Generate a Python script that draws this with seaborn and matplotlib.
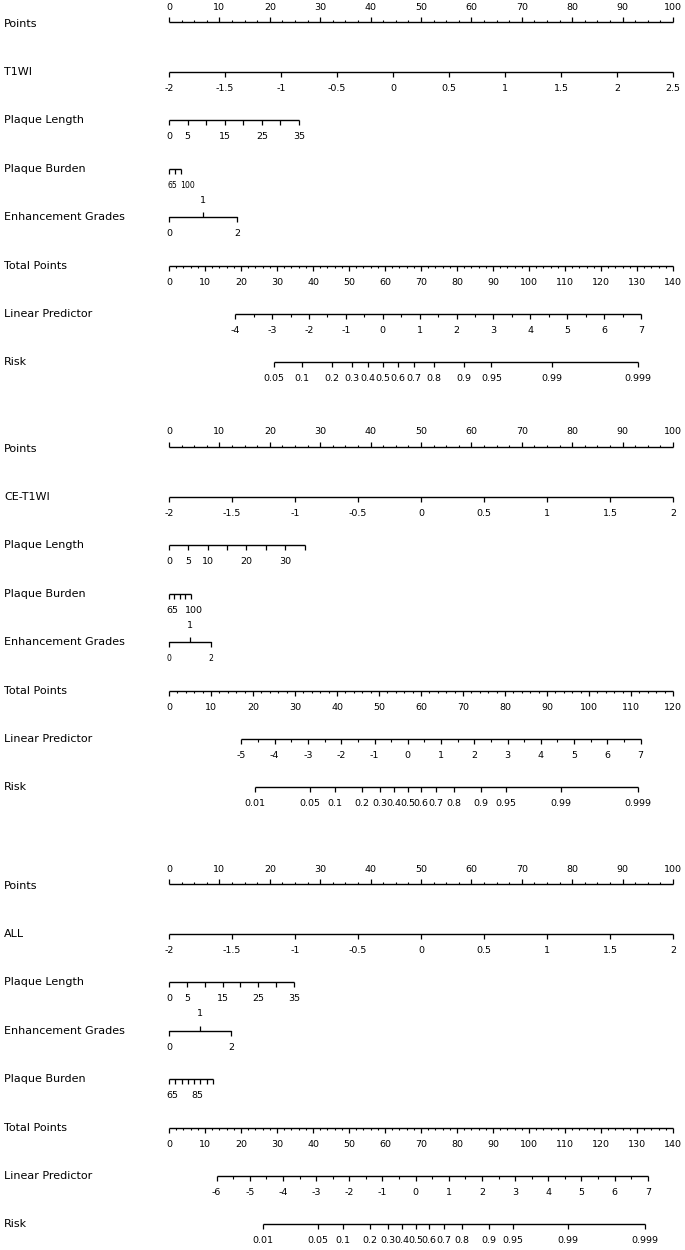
"""
Three stacked nomograms (T1WI, CE-T1WI, ALL) redrawn with matplotlib/seaborn.
Every scale is a horizontal axis placed on a shared "points" x-scale.
"""

import numpy as np
import matplotlib
matplotlib.use("Agg")
import matplotlib.pyplot as plt
import seaborn as sns

sns.set_theme(style="white")
plt.rcParams["font.family"] = ["DejaVu Sans"]
plt.rcParams["text.color"] = "black"

# ---------------------------------------------------------------------------
# Nomogram scales (one entry per panel)
# ---------------------------------------------------------------------------
PANEL_NAMES = ["T1WI", "CE-T1WI", "ALL"]

MAIN_TICKS = [
    [-2, -1.5, -1, -0.5, 0, 0.5, 1, 1.5, 2, 2.5],
    [-2, -1.5, -1, -0.5, 0, 0.5, 1, 1.5, 2],
    [-2, -1.5, -1, -0.5, 0, 0.5, 1, 1.5, 2],
]

LENGTH_TICKS = [0, 5, 10, 15, 20, 25, 30, 35]
LENGTH_LABELS = [[0, 5, 15, 25, 35], [0, 5, 10, 20, 30], [0, 5, 15, 25, 35]]
LENGTH_MAX_POINTS = [25.8, 26.9, 24.8]

BURDEN_TICKS = [
    [65, 82.5, 100],
    [65, 73.75, 82.5, 91.25, 100],
    [65, 70, 75, 80, 85, 90, 95, 100],
]
BURDEN_LABELS = [[65, 100], [65, 100], [65, 85]]
BURDEN_MAX_POINTS = [2.4, 4.3, 8.7]

GRADE_TICKS = [0, 1, 2]
GRADE_MAX_POINTS = [13.5, 8.3, 12.4]

TOTAL_MAX = [140, 120, 140]
LP_TICKS = [list(range(-4, 8)), list(range(-5, 8)), list(range(-6, 8))]
LP_TOTAL_AT_ENDS = [(18.4, 131.1), (17.25, 112.3), (13.24, 133.0)]

RISK_TICKS = [
    [0.05, 0.1, 0.2, 0.3, 0.4, 0.5, 0.6, 0.7, 0.8, 0.9, 0.95, 0.99, 0.999],
    [0.01, 0.05, 0.1, 0.2, 0.3, 0.4, 0.5, 0.6, 0.7, 0.8, 0.9, 0.95, 0.99, 0.999],
    [0.01, 0.05, 0.1, 0.2, 0.3, 0.4, 0.5, 0.6, 0.7, 0.8, 0.9, 0.95, 0.99, 0.999],
]

ROW_ORDER = [
    ["main", "length", "burden", "grade"],
    ["main", "length", "burden", "grade"],
    ["main", "length", "grade", "burden"],
]
ROW_NAMES = {"length": "Plaque Length", "burden": "Plaque Burden",
             "grade": "Enhancement Grades"}

# ---------------------------------------------------------------------------
# Layout (pixel based, figure is 685 x 1250)
# ---------------------------------------------------------------------------
W_PX, H_PX = 685, 1250
X0_PX = 169            # pixel of 0 points
PX_PER_POINT = 5.04
PANEL_TOP = [22, 447, 884]
FIRST_GAP = 50
ROW_STEP = 48.4
MAJOR_LEN = 5
MINOR_LEN = 2.5
LABEL_FS = 8
TICK_FS = 6.8
SMALL_FS = 5.6
BURDEN_FS = [SMALL_FS, TICK_FS, TICK_FS]
BURDEN_HA = ["left", "center", "center"]
BURDEN_DX = [-1, 3, 3]
GRADE_FS = [TICK_FS, SMALL_FS, TICK_FS]
LW = 1.0


def px(n):
    """pixel offset -> points units on the x axis"""
    return n / PX_PER_POINT


def fmt(v):
    return f"{v:g}"


def draw_scale(ax, y, xs, labels=None, minor=None, up=False, fs=TICK_FS,
               label_dx=0.0, ha="center"):
    ax.plot([min(xs), max(xs)], [y, y], color="black", lw=LW,
            solid_capstyle="butt")
    sign = -1 if up else 1
    ax.vlines(xs, y, y + sign * MAJOR_LEN, color="black", lw=0.9)
    if minor is not None and len(minor):
        ax.vlines(minor, y, y + sign * MINOR_LEN, color="black", lw=0.8)
    if labels is not None:
        ty = y - 15 if up else y + 16.5
        for x, lab in labels:
            ax.text(x + label_dx, ty, lab, ha=ha, va="center", fontsize=fs)


fig = plt.figure(figsize=(W_PX / 100, H_PX / 100), dpi=100)
ax = fig.add_axes([0, 0, 1, 1])
ax.set_xlim(-px(X0_PX), px(W_PX - X0_PX))
ax.set_ylim(H_PX, 0)
ax.axis("off")
label_x = -px(X0_PX - 4)

for p in range(3):
    rows_y = [PANEL_TOP[p]] + [PANEL_TOP[p] + FIRST_GAP + i * ROW_STEP
                               for i in range(7)]

    # Points
    y = rows_y[0]
    major = np.arange(0, 101, 10)
    minor = [v for v in np.arange(0, 100.1, 2.5) if v % 10]
    draw_scale(ax, y, major, [(v, fmt(v)) for v in major], minor, up=True)
    ax.text(label_x, y + 2, "Points", ha="left", va="center", fontsize=LABEL_FS)

    for r, key in enumerate(ROW_ORDER[p]):
        y = rows_y[r + 1]
        if key == "main":
            ticks = MAIN_TICKS[p]
            lo, hi = ticks[0], ticks[-1]
            xs = [(v - lo) / (hi - lo) * 100 for v in ticks]
            draw_scale(ax, y, xs, list(zip(xs, map(fmt, ticks))))
            name = PANEL_NAMES[p]
        elif key == "length":
            xs = [v / 35 * LENGTH_MAX_POINTS[p] for v in LENGTH_TICKS]
            labs = [(v / 35 * LENGTH_MAX_POINTS[p], fmt(v))
                    for v in LENGTH_LABELS[p]]
            draw_scale(ax, y, xs, labs)
            name = ROW_NAMES[key]
        elif key == "burden":
            xs = [(v - 65) / 35 * BURDEN_MAX_POINTS[p] for v in BURDEN_TICKS[p]]
            labs = [((v - 65) / 35 * BURDEN_MAX_POINTS[p], fmt(v))
                    for v in BURDEN_LABELS[p]]
            draw_scale(ax, y, xs, labs, fs=BURDEN_FS[p],
                       label_dx=px(BURDEN_DX[p]), ha=BURDEN_HA[p])
            name = ROW_NAMES[key]
        else:
            xs = [v / 2 * GRADE_MAX_POINTS[p] for v in GRADE_TICKS]
            ax.plot([xs[0], xs[-1]], [y, y], color="black", lw=LW)
            ax.vlines([xs[0], xs[-1]], y, y + MAJOR_LEN, color="black", lw=0.9)
            ax.vlines([xs[1]], y, y - MAJOR_LEN, color="black", lw=0.9)
            for x, v in [(xs[0], 0), (xs[-1], 2)]:
                ax.text(x, y + 16.5, fmt(v), ha="center", va="center",
                        fontsize=GRADE_FS[p])
            ax.text(xs[1], y - 17, "1", ha="center", va="center",
                    fontsize=TICK_FS)
            name = ROW_NAMES[key]
        ax.text(label_x, y, name, ha="left", va="center", fontsize=LABEL_FS)

    # Total points
    y = rows_y[5]
    tmax = TOTAL_MAX[p]
    scale = 100 / tmax
    major = np.arange(0, tmax + 1, 10)
    minor = [v for v in np.arange(0, tmax + 0.1, 2) if v % 10]
    draw_scale(ax, y, major * scale, [(v * scale, fmt(v)) for v in major],
               np.array(minor) * scale)
    ax.text(label_x, y, "Total Points", ha="left", va="center",
            fontsize=LABEL_FS)

    # Linear predictor
    y = rows_y[6]
    lp = LP_TICKS[p]
    t_lo, t_hi = LP_TOTAL_AT_ENDS[p]
    slope = (t_hi - t_lo) / (lp[-1] - lp[0])

    def lp_to_x(v):
        return (t_lo + (v - lp[0]) * slope) * scale

    xs = [lp_to_x(v) for v in lp]
    minor = [lp_to_x(v + 0.5) for v in lp[:-1]]
    draw_scale(ax, y, xs, list(zip(xs, map(fmt, lp))), minor)
    ax.text(label_x, y, "Linear Predictor", ha="left", va="center",
            fontsize=LABEL_FS)

    # Risk
    y = rows_y[7]
    risk = np.array(RISK_TICKS[p])
    xs = [lp_to_x(v) for v in np.log(risk / (1 - risk))]
    draw_scale(ax, y, xs, list(zip(xs, map(fmt, risk))))
    ax.text(label_x, y, "Risk", ha="left", va="center", fontsize=LABEL_FS)

fig.savefig("out.png", dpi=100)
plt.close()
